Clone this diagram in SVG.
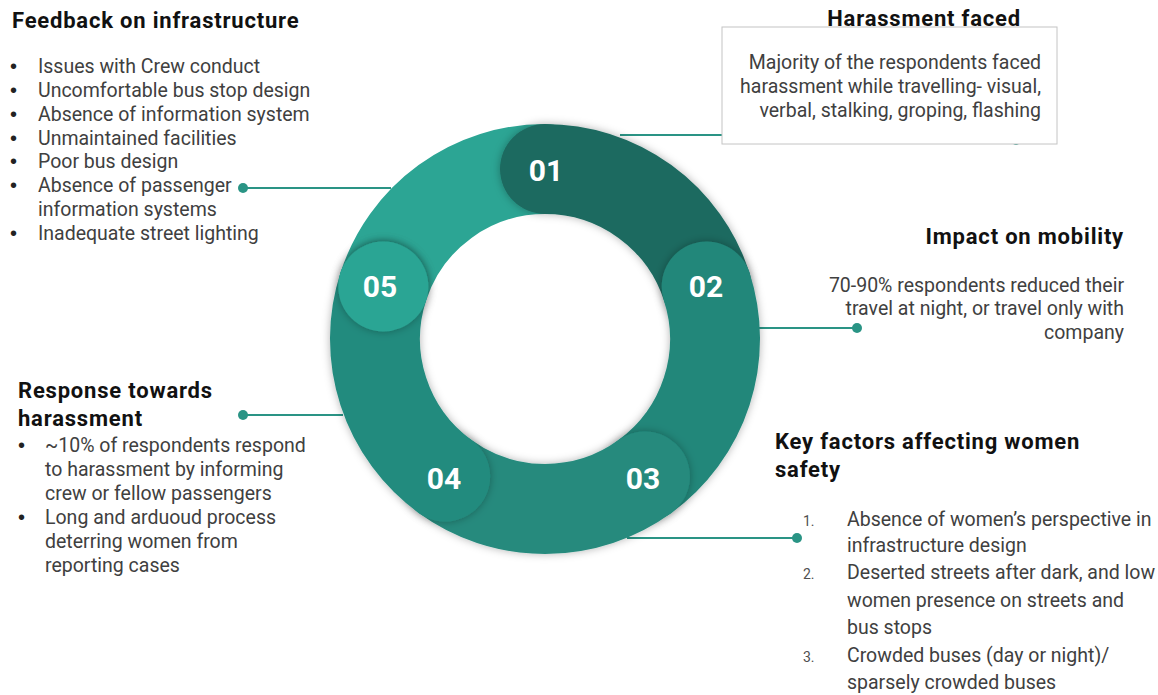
<svg xmlns="http://www.w3.org/2000/svg" width="1158" height="695" viewBox="0 0 1158 695">
<defs>
<style>
.t{font-family:Roboto,"Liberation Sans",sans-serif;font-weight:700;font-size:22px;letter-spacing:0.8px;fill:#111}
.b{font-family:Roboto,"Liberation Sans",sans-serif;font-size:19.5px;fill:#404040}
.bl{font-family:"Liberation Sans",Arial,sans-serif;font-size:20px;fill:#222}
.n{font-family:Roboto,"Liberation Sans",sans-serif;font-size:14px;fill:#505050}
.num{font-family:Roboto,"Liberation Sans",sans-serif;font-weight:700;font-size:30px;fill:#fff;text-anchor:middle}
.seg{fill:none;stroke-width:90;stroke-linecap:round}
.ln{stroke:#2a9485;stroke-width:2;fill:none}
.dot{fill:#2a9485}
.r{text-anchor:end}
</style>
<filter id="sh" filterUnits="userSpaceOnUse" x="0" y="0" width="1158" height="695">
<feDropShadow dx="0" dy="0" stdDeviation="4" flood-color="#000" flood-opacity="0.3"/>
</filter>
</defs>

<g id="connectors">
<path class="ln" d="M620 135 H1016"/>
<circle class="dot" cx="1016" cy="140" r="5"/>
<path class="ln" d="M758 328 H857"/>
<circle class="dot" cx="857" cy="328" r="5"/>
<path class="ln" d="M627 538 H797"/>
<circle class="dot" cx="797" cy="538" r="5"/>
<path class="ln" d="M243 415 H343"/>
<circle class="dot" cx="243" cy="415" r="5"/>
<path class="ln" d="M243 188 H391"/>
<circle class="dot" cx="243" cy="188" r="5"/>
</g>

<g id="ring">
<path id="seg05band" class="seg" stroke="#2ca594" d="M383.3 286.5 A170 170 0 0 1 545 169"/>
<path id="seg01" class="seg" stroke="#1e6a60" filter="url(#sh)" d="M545 169 A170 170 0 0 1 706.7 286.5"/>
<path id="seg02" class="seg" stroke="#24877a" filter="url(#sh)" d="M706.7 286.5 A170 170 0 0 1 644.9 476.5"/>
<path id="seg03" class="seg" stroke="#258a7d" filter="url(#sh)" d="M644.9 476.5 A170 170 0 0 1 445.1 476.5"/>
<path id="seg04" class="seg" stroke="#248b7e" filter="url(#sh)" d="M445.1 476.5 A170 170 0 0 1 383.3 286.5"/>
<circle id="seg05cap" cx="383.3" cy="286.5" r="45" fill="#2ca594" filter="url(#sh)"/>
</g>

<g id="node01">
<text class="num" x="546" y="181">01</text>
<rect x="722" y="27" width="335" height="117" fill="#fff" stroke="#c4c4c4" stroke-width="1"/>
<text class="t r" x="1021" y="26">Harassment faced</text>
<text class="b r" x="1041" y="69">Majority of the respondents faced</text>
<text class="b r" x="1041" y="93">harassment while travelling- visual,</text>
<text class="b r" x="1041" y="117">verbal, stalking, groping, flashing</text>
</g>

<g id="node02">
<text class="num" x="706" y="297">02</text>
<text class="t r" x="1124" y="244">Impact on mobility</text>
<text class="b r" x="1124" y="292">70-90% respondents reduced their</text>
<text class="b r" x="1124" y="315">travel at night, or travel only with</text>
<text class="b r" x="1124" y="339">company</text>
</g>

<g id="node03">
<text class="num" x="643" y="489">03</text>
<text class="t" x="775" y="449">Key factors affecting women</text>
<text class="t" x="775" y="477">safety</text>
<text class="n" x="803" y="526">1.</text>
<text class="b" x="847" y="526">Absence of women’s perspective in</text>
<text class="b" x="847" y="552">infrastructure design</text>
<text class="n" x="803" y="579">2.</text>
<text class="b" x="847" y="579">Deserted streets after dark, and low</text>
<text class="b" x="847" y="607">women presence on streets and</text>
<text class="b" x="847" y="634">bus stops</text>
<text class="n" x="803" y="662">3.</text>
<text class="b" x="847" y="662">Crowded buses (day or night)/</text>
<text class="b" x="847" y="689">sparsely crowded buses</text>
</g>

<g id="node04">
<text class="num" x="444" y="489">04</text>
<text class="t" x="18" y="398">Response towards</text>
<text class="t" x="18" y="426">harassment</text>
<text class="bl" x="18" y="452">•</text>
<text class="b" x="45" y="452">~10% of respondents respond</text>
<text class="b" x="45" y="476">to harassment by informing</text>
<text class="b" x="45" y="500">crew or fellow passengers</text>
<text class="bl" x="18" y="524">•</text>
<text class="b" x="45" y="524">Long and arduoud process</text>
<text class="b" x="45" y="548">deterring women from</text>
<text class="b" x="45" y="572">reporting cases</text>
</g>

<g id="node05">
<text class="num" x="380" y="297">05</text>
<text class="t" x="12" y="28">Feedback on infrastructure</text>
<text class="bl" x="10" y="73">•</text>
<text class="b" x="38" y="73">Issues with Crew conduct</text>
<text class="bl" x="10" y="97">•</text>
<text class="b" x="38" y="97">Uncomfortable bus stop design</text>
<text class="bl" x="10" y="121">•</text>
<text class="b" x="38" y="121">Absence of information system</text>
<text class="bl" x="10" y="145">•</text>
<text class="b" x="38" y="145">Unmaintained facilities</text>
<text class="bl" x="10" y="168">•</text>
<text class="b" x="38" y="168">Poor bus design</text>
<text class="bl" x="10" y="192">•</text>
<text class="b" x="38" y="192">Absence of passenger</text>
<text class="b" x="38" y="216">information systems</text>
<text class="bl" x="10" y="240">•</text>
<text class="b" x="38" y="240">Inadequate street lighting</text>
</g>
</svg>
